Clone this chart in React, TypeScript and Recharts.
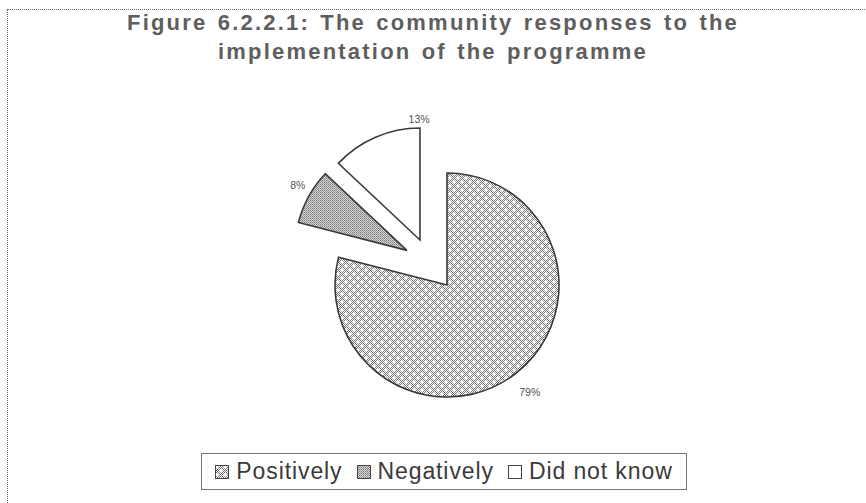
import React from "react";
import { PieChart, Pie, Cell, Sector, Legend } from "recharts";

const categories = ["Positively", "Negatively", "Did not know"];
const shares = [79, 8, 13];
const labels = ["79%", "8%", "13%"];
const titleLines = [
  "Figure 6.2.2.1: The community responses to the",
  "implementation of the programme",
];

const data = categories.map((name, i) => ({ name, value: shares[i], label: labels[i] }));

const FILLS: Record<string, string> = {
  Positively: "url(#patPos)",
  Negatively: "url(#patNeg)",
  "Did not know": "#ffffff",
};
// explode distance and direction tweak (degrees) per slice
const EXPLODE: Record<string, { d: number; shift: number }> = {
  Positively: { d: 0, shift: 0 },
  Negatively: { d: 53, shift: -12 },
  "Did not know": { d: 52.5, shift: 7.6 },
};
const LABEL_STYLE: Record<string, { shift: number; r: number }> = {
  Positively: { shift: 0, r: 135 },
  Negatively: { shift: -2, r: 127 },
  "Did not know": { shift: -23, r: 121 },
};

const RAD = Math.PI / 180;
const FONT = "'Liberation Sans', Arial, sans-serif";

const explodedCenter = (props: any, name: string) => {
  const e = EXPLODE[name] || { d: 0, shift: 0 };
  const a = props.midAngle + e.shift;
  return {
    x: props.cx + e.d * Math.cos(-a * RAD),
    y: props.cy + e.d * Math.sin(-a * RAD),
  };
};

const ExplodedSector = (props: any) => {
  const name = props.name ?? props.payload?.name;
  const c = explodedCenter(props, name);
  return (
    <Sector
      {...props}
      cx={c.x}
      cy={c.y}
      fill={props.fill}
      stroke="#3a3a3a"
      strokeWidth={1.6}
    />
  );
};

const renderLabel = (props: any) => {
  const name = props.name ?? props.payload?.name;
  const c = explodedCenter(props, name);
  const st = LABEL_STYLE[name];
  const la = props.midAngle + st.shift;
  const x = c.x + st.r * Math.cos(-la * RAD);
  const y = c.y + st.r * Math.sin(-la * RAD);
  return (
    <text x={x} y={y} textAnchor="middle" dominantBaseline="central" fontSize={10.5} fill="#555" fontFamily={FONT}>
      {props.payload?.label ?? props.label}
    </text>
  );
};

const LegendContent = () => (
  <div
    style={{
      border: "1px solid #777",
      width: 486,
      height: 37,
      boxSizing: "border-box",
      display: "flex",
      alignItems: "center",
      justifyContent: "center",
      fontFamily: FONT,
      fontSize: 23,
      letterSpacing: 0.9,
      color: "#3a3a3a",
      background: "#fff",
    }}
  >
    {categories.map((c, i) => (
      <span key={c} style={{ display: "flex", alignItems: "center", marginLeft: i === 0 ? 0 : 14 }}>
        <svg width={14} height={14} style={{ marginRight: 7 }}>
          <rect x={0.5} y={0.5} width={13} height={13} fill={FILLS[c]} stroke="#444" strokeWidth={1} />
        </svg>
        {c}
      </span>
    ))}
  </div>
);

export default function App() {
  return (
    <div style={{ position: "absolute", left: 0, top: 0, width: 866, height: 503, overflow: "hidden", background: "#fff" }}>
      <div
        style={{
          position: "absolute",
          left: 7,
          top: 9,
          width: 900,
          height: 600,
          border: "1px dotted #666",
          boxSizing: "border-box",
        }}
      />
      <div
        style={{
          position: "absolute",
          left: 0,
          top: 8,
          width: 866,
          textAlign: "center",
          fontFamily: FONT,
          fontWeight: "bold",
          fontSize: 22,
          letterSpacing: 2.2,
          wordSpacing: 2,
          lineHeight: "29px",
          color: "#5e5e5e",
        }}
      >
        {titleLines.map((t) => (
          <div key={t}>{t}</div>
        ))}
      </div>
      <div style={{ position: "absolute", left: 0, top: 0 }}>
        <PieChart width={866} height={503} margin={{ top: 0, right: 0, bottom: 0, left: 0 }}>
          <defs>
            <pattern id="patPos" patternUnits="userSpaceOnUse" width={8} height={8}>
              <rect width={8} height={8} fill="#ffffff" />
              <path d="M0 0h1v1H0zM2 0h1v1H2zM4 0h1v1H4zM6 0h1v1H6zM1 1h1v1H1zM3 1h1v1H3zM5 1h1v1H5zM7 1h1v1H7zM0 2h1v1H0zM2 2h1v1H2zM4 2h1v1H4zM6 2h1v1H6zM1 3h1v1H1zM3 3h1v1H3zM5 3h1v1H5zM7 3h1v1H7zM0 4h1v1H0zM2 4h1v1H2zM4 4h1v1H4zM6 4h1v1H6zM1 5h1v1H1zM3 5h1v1H3zM5 5h1v1H5zM7 5h1v1H7zM0 6h1v1H0zM2 6h1v1H2zM4 6h1v1H4zM6 6h1v1H6zM1 7h1v1H1zM3 7h1v1H3zM5 7h1v1H5zM7 7h1v1H7z" fill="#6a6a6a" />
              <circle cx={2} cy={2} r={1.7} fill="#ffffff" />
              <circle cx={6} cy={6} r={1.7} fill="#ffffff" />
            </pattern>
            <pattern id="patNeg" patternUnits="userSpaceOnUse" width={2} height={2}>
              <rect width={2} height={2} fill="#d6d6d6" />
              <rect width={1} height={1} fill="#7a7a7a" />
              <rect x={1} y={1} width={1} height={1} fill="#969696" />
            </pattern>
          </defs>
          <Pie
            data={data}
            dataKey="value"
            nameKey="name"
            cx={447}
            cy={285}
            outerRadius={112}
            startAngle={90}
            endAngle={-270}
            isAnimationActive={false}
            shape={ExplodedSector}
            label={renderLabel}
            labelLine={false}
          >
            {data.map((d) => (
              <Cell key={d.name} fill={FILLS[d.name]} />
            ))}
          </Pie>
          <Legend
            content={<LegendContent />}
            wrapperStyle={{ position: "absolute", left: 201, top: 453, width: 486, height: 37 }}
          />
        </PieChart>
      </div>
    </div>
  );
}
